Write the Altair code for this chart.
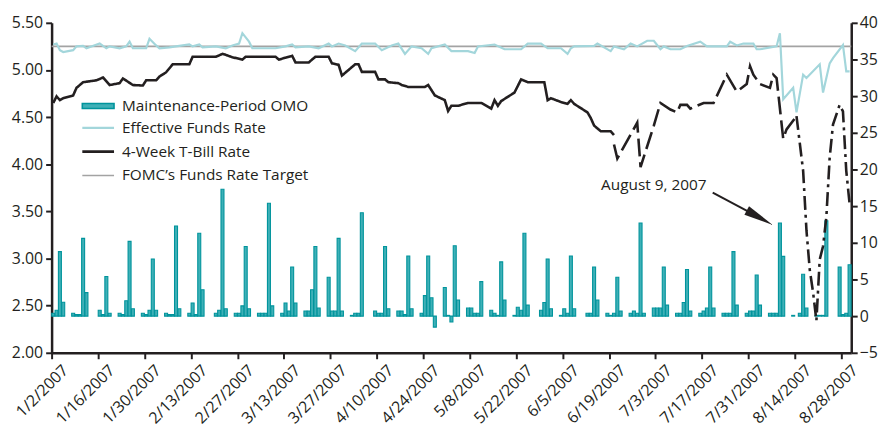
import altair as alt
import pandas as pd

# ---------------- data ----------------
omo_dates = [
    "2007-01-02", "2007-01-03", "2007-01-04", "2007-01-05",
    "2007-01-08", "2007-01-09", "2007-01-10", "2007-01-11", "2007-01-12",
    "2007-01-16", "2007-01-17", "2007-01-18", "2007-01-19",
    "2007-01-22", "2007-01-23", "2007-01-24", "2007-01-25", "2007-01-26",
    "2007-01-29", "2007-01-30", "2007-01-31", "2007-02-01", "2007-02-02",
    "2007-02-05", "2007-02-06", "2007-02-07", "2007-02-08", "2007-02-09",
    "2007-02-12", "2007-02-13", "2007-02-14", "2007-02-15", "2007-02-16",
    "2007-02-20", "2007-02-21", "2007-02-22", "2007-02-23",
    "2007-02-26", "2007-02-27", "2007-02-28", "2007-03-01", "2007-03-02",
    "2007-03-05", "2007-03-06", "2007-03-07", "2007-03-08", "2007-03-09",
    "2007-03-12", "2007-03-13", "2007-03-14", "2007-03-15", "2007-03-16",
    "2007-03-19", "2007-03-20", "2007-03-21", "2007-03-22", "2007-03-23",
    "2007-03-26", "2007-03-27", "2007-03-28", "2007-03-29", "2007-03-30",
    "2007-04-02", "2007-04-03", "2007-04-04", "2007-04-05",
    "2007-04-09", "2007-04-10", "2007-04-11", "2007-04-12", "2007-04-13",
    "2007-04-16", "2007-04-17", "2007-04-18", "2007-04-19", "2007-04-20",
    "2007-04-23", "2007-04-24", "2007-04-25", "2007-04-26", "2007-04-27",
    "2007-04-30", "2007-05-01", "2007-05-02", "2007-05-03", "2007-05-04",
    "2007-05-07", "2007-05-08", "2007-05-09", "2007-05-10", "2007-05-11",
    "2007-05-14", "2007-05-15", "2007-05-16", "2007-05-17", "2007-05-18",
    "2007-05-21", "2007-05-22", "2007-05-23", "2007-05-24", "2007-05-25",
    "2007-05-29", "2007-05-30", "2007-05-31", "2007-06-01",
    "2007-06-04", "2007-06-05", "2007-06-06", "2007-06-07", "2007-06-08",
    "2007-06-12", "2007-06-13", "2007-06-14", "2007-06-15",
    "2007-06-18", "2007-06-19", "2007-06-20", "2007-06-21", "2007-06-22",
    "2007-06-25", "2007-06-26", "2007-06-27", "2007-06-28", "2007-06-29",
    "2007-07-02", "2007-07-03", "2007-07-04", "2007-07-05", "2007-07-06",
    "2007-07-09", "2007-07-10", "2007-07-11", "2007-07-12", "2007-07-13",
    "2007-07-16", "2007-07-17", "2007-07-18", "2007-07-19", "2007-07-20",
    "2007-07-23", "2007-07-24", "2007-07-25", "2007-07-26", "2007-07-27",
    "2007-07-30", "2007-07-31", "2007-08-01", "2007-08-02", "2007-08-03",
    "2007-08-06", "2007-08-07", "2007-08-08", "2007-08-09", "2007-08-10",
    "2007-08-13", "2007-08-15", "2007-08-16", "2007-08-17",
    "2007-08-20", "2007-08-21", "2007-08-22", "2007-08-23",
    "2007-08-27", "2007-08-28", "2007-08-29", "2007-08-30",
]
omo_values = [
    0.4, 0.8, 8.8, 1.9,
    0.4, 0.2, 0.2, 10.6, 3.2,
    0.8, 0.2, 5.4, 0.4,
    0.4, 0.2, 2.1, 10.2, 1.0,
    0.4, 0.2, 0.8, 7.8, 0.8,
    0.4, 0.2, 0.2, 12.3, 1.0,
    0.4, 1.8, 0.2, 11.3, 3.6,
    0.4, 0.8, 17.3, 1.0,
    0.4, 0.4, 1.4, 9.5, 1.0,
    0.4, 0.4, 0.4, 15.4, 1.4,
    0.4, 1.8, 0.7, 6.7, 1.8,
    0.7, 0.7, 3.6, 9.5, 1.1,
    5.3, 0.7, 0.7, 10.6, 0.7,
    0.1, 0.4, 0.4, 14.1,
    0.7, 0.4, 0.4, 9.5, 1.0,
    0.7, 0.7, 0.2, 8.2, 1.0,
    0.4, 2.8, 8.2, 2.5, -1.5,
    3.9, 0.1, -0.8, 9.6, 2.2,
    1.1, 1.1, 0.4, 0.4, 4.7,
    0.8, 0.4, 0.1, 7.4, 2.2,
    0.1, 1.2, 0.8, 11.3, 1.5,
    0.8, 1.85, 7.8, 1.0,
    0.1, 1.0, 0.4, 8.2, 1.0,
    0.4, 0.4, 6.7, 2.2,
    0.4, 0.1, 0.4, 5.3, 0.7,
    0.4, 0.7, 0.4, 12.7, 0.4,
    1.1, 1.1, 1.1, 6.7, 1.5,
    0.4, 0.4, 1.85, 6.35, 0.7,
    0.4, 0.7, 1.1, 6.7, 1.1,
    0.4, 0.4, 0.4, 8.8, 1.5,
    0.4, 0.7, 0.7, 5.6, 1.5,
    0.4, 0.4, 0.4, 12.7, 8.15,
    0.1, 0.4, 5.7, 1.1,
    0.1, 0.1, 0.1, 13.0,
    6.7, 0.2, 0.4, 7.0,
]

effr_dates = [
    "2007-01-02", "2007-01-03", "2007-01-04", "2007-01-05", "2007-01-08", "2007-01-09",
    "2007-01-11", "2007-01-12", "2007-01-16", "2007-01-18", "2007-01-19", "2007-01-22",
    "2007-01-24", "2007-01-25", "2007-01-26", "2007-01-30", "2007-01-31", "2007-02-02",
    "2007-02-03", "2007-02-06", "2007-02-09", "2007-02-12", "2007-02-13", "2007-02-15",
    "2007-02-16", "2007-02-20", "2007-02-23", "2007-02-25", "2007-02-27", "2007-02-28",
    "2007-03-02", "2007-03-03", "2007-03-06", "2007-03-10", "2007-03-13", "2007-03-15",
    "2007-03-16", "2007-03-20", "2007-03-23", "2007-03-26", "2007-03-27", "2007-03-29",
    "2007-03-31", "2007-04-03", "2007-04-05", "2007-04-09", "2007-04-11", "2007-04-14",
    "2007-04-16", "2007-04-18", "2007-04-20", "2007-04-23", "2007-04-25", "2007-04-26",
    "2007-04-30", "2007-05-02", "2007-05-07", "2007-05-09", "2007-05-10", "2007-05-15",
    "2007-05-18", "2007-05-23", "2007-05-25", "2007-05-29", "2007-05-31", "2007-06-04",
    "2007-06-06", "2007-06-07", "2007-06-08", "2007-06-14", "2007-06-15", "2007-06-19",
    "2007-06-20", "2007-06-23", "2007-06-25", "2007-06-27", "2007-06-30", "2007-07-02",
    "2007-07-04", "2007-07-05", "2007-07-07", "2007-07-10", "2007-07-12", "2007-07-16",
    "2007-07-18", "2007-07-24", "2007-07-25", "2007-07-27", "2007-07-29", "2007-08-01",
    "2007-08-02", "2007-08-03", "2007-08-08", "2007-08-09", "2007-08-10", "2007-08-13",
    "2007-08-14", "2007-08-16", "2007-08-17", "2007-08-21", "2007-08-22", "2007-08-24",
    "2007-08-25", "2007-08-28", "2007-08-29", "2007-08-30",
]
effr_values = [
    5.27, 5.28, 5.21, 5.19, 5.21, 5.25,
    5.255, 5.23, 5.28, 5.23, 5.25, 5.23,
    5.25, 5.30, 5.23, 5.23, 5.33, 5.26,
    5.23, 5.24, 5.255, 5.27, 5.25, 5.27,
    5.24, 5.25, 5.23, 5.26, 5.28, 5.39,
    5.30, 5.23, 5.23, 5.23, 5.25, 5.27,
    5.24, 5.25, 5.23, 5.28, 5.25, 5.28,
    5.26, 5.20, 5.28, 5.28, 5.21, 5.26,
    5.28, 5.17, 5.25, 5.23, 5.17, 5.23,
    5.27, 5.20, 5.20, 5.18, 5.25, 5.27,
    5.22, 5.22, 5.28, 5.28, 5.23, 5.23,
    5.17, 5.23, 5.25, 5.255, 5.28, 5.20,
    5.25, 5.22, 5.28, 5.25, 5.31, 5.31,
    5.22, 5.25, 5.22, 5.22, 5.255, 5.30,
    5.25, 5.25, 5.30, 5.26, 5.28, 5.28,
    5.22, 5.22, 5.25, 5.39, 4.69, 4.81,
    4.55, 4.95, 4.915, 5.06, 4.76, 5.07,
    5.125, 5.265, 4.985, 4.985,
]

tbill_solid_dates = [
    "2007-01-02", "2007-01-03", "2007-01-04", "2007-01-05", "2007-01-08", "2007-01-09",
    "2007-01-11", "2007-01-15", "2007-01-17", "2007-01-19", "2007-01-22", "2007-01-23",
    "2007-01-26", "2007-01-29", "2007-01-30", "2007-02-02", "2007-02-03", "2007-02-05",
    "2007-02-07", "2007-02-12", "2007-02-13", "2007-02-20", "2007-02-22", "2007-02-23",
    "2007-02-25", "2007-02-28", "2007-03-01", "2007-03-10", "2007-03-11", "2007-03-13",
    "2007-03-15", "2007-03-16", "2007-03-20", "2007-03-22", "2007-03-26", "2007-03-27",
    "2007-03-29", "2007-03-30", "2007-04-03", "2007-04-04", "2007-04-05", "2007-04-09",
    "2007-04-10", "2007-04-12", "2007-04-13", "2007-04-16", "2007-04-17", "2007-04-19",
    "2007-04-24", "2007-04-25", "2007-04-27", "2007-04-30", "2007-05-01", "2007-05-02",
    "2007-05-04", "2007-05-07", "2007-05-11", "2007-05-14", "2007-05-15", "2007-05-16",
    "2007-05-17", "2007-05-21", "2007-05-23", "2007-05-25", "2007-05-30", "2007-05-31",
    "2007-06-01", "2007-06-04", "2007-06-06", "2007-06-07", "2007-06-08", "2007-06-12",
    "2007-06-13", "2007-06-14", "2007-06-16", "2007-06-19", "2007-06-20",
]
tbill_solid_values = [
    4.65, 4.72, 4.68, 4.70, 4.73, 4.81,
    4.87, 4.89, 4.92, 4.84, 4.86, 4.91,
    4.84, 4.835, 4.89, 4.89, 4.93, 4.975,
    5.06, 5.06, 5.14, 5.14, 5.17, 5.16,
    5.135, 5.11, 5.14, 5.14, 5.11, 5.13,
    5.15, 5.08, 5.08, 5.14, 5.14, 5.07,
    5.055, 4.94, 5.06, 5.06, 4.98, 4.98,
    4.90, 4.90, 4.87, 4.86, 4.84, 4.82,
    4.82, 4.84, 4.73, 4.68, 4.565, 4.62,
    4.62, 4.65, 4.65, 4.59, 4.68, 4.62,
    4.67, 4.76, 4.90, 4.87, 4.87, 4.68,
    4.70, 4.66, 4.64, 4.68, 4.64, 4.55,
    4.49, 4.41, 4.35, 4.35, 4.31,
]
tbill_dashed_dates = [
    "2007-06-20", "2007-06-21", "2007-06-27", "2007-06-28", "2007-07-02", "2007-07-04",
    "2007-07-07", "2007-07-09", "2007-07-10", "2007-07-12", "2007-07-13", "2007-07-17",
    "2007-07-20", "2007-07-24", "2007-07-27", "2007-07-30", "2007-07-31", "2007-08-01",
    "2007-08-03", "2007-08-06", "2007-08-07", "2007-08-08", "2007-08-10", "2007-08-11",
    "2007-08-14",
]
tbill_dashed_values = [
    4.21, 4.06, 4.44, 3.97, 4.41, 4.65,
    4.58, 4.55, 4.63, 4.63, 4.59, 4.65,
    4.65, 4.95, 4.77, 4.85, 5.04, 4.95,
    4.85, 4.81, 4.95, 4.915, 4.27, 4.37,
    4.51,
]
tbill_dashdot_dates = [
    "2007-08-14", "2007-08-16", "2007-08-17", "2007-08-18", "2007-08-19", "2007-08-20",
    "2007-08-21", "2007-08-22", "2007-08-23", "2007-08-24", "2007-08-25", "2007-08-27",
    "2007-08-28", "2007-08-29", "2007-08-30",
]
tbill_dashdot_values = [
    4.51, 3.93, 3.30, 2.88, 2.64, 2.34,
    2.99, 3.13, 3.44, 4.07, 4.42, 4.63,
    4.56, 3.93, 3.58,
]

fomc_dates = ["2007-01-02", "2007-08-31"]
fomc_values = [5.25, 5.25]

tick_dates = [
    (1, 2), (1, 16), (1, 30), (2, 13), (2, 27), (3, 13), (3, 27), (4, 10), (4, 24),
    (5, 8), (5, 22), (6, 5), (6, 19), (7, 3), (7, 17), (7, 31), (8, 14), (8, 28),
]
left_ticks = [2.0, 2.5, 3.0, 3.5, 4.0, 4.5, 5.0, 5.5]
right_ticks = [-5, 0, 5, 10, 15, 20, 25, 30, 35, 40]

legend_labels = [
    "Maintenance-Period OMO",
    "Effective Funds Rate",
    "4-Week T-Bill Rate",
    "FOMC\u2019s Funds Rate Target",
]
annotation_label = "August 9, 2007"
annotation_at = ("2007-07-02T12:00:00Z", 3.776)
arrow_from = ("2007-07-20T06:00:00Z", 3.70)
arrow_to = ("2007-08-03T10:00:00Z", 3.433)

# ---------------- styling ----------------
FONT = "Open Sans"
INK = "#231f20"
TEAL = "#00949c"
TEAL_FILL = "#3fb0b7"
LIGHT = "#a3d6db"
GRAY = "#a3a3a3"
ISO = "%Y-%m-%dT%H:%M:%SZ"

def iso(series, hours):
    return (pd.to_datetime(pd.Series(series)) + pd.Timedelta(hours=hours)).dt.strftime(ISO)

bars_df = pd.DataFrame({"v": omo_values})
bars_df["x0"] = iso(omo_dates, 1.2)
bars_df["x1"] = iso(omo_dates, 22.8)
bars_df["base"] = 0.0

effr_df = pd.DataFrame({"t": iso(effr_dates, 12), "v": effr_values})
tb_df = pd.concat([
    pd.DataFrame({"t": iso(tbill_solid_dates, 12), "v": tbill_solid_values, "seg": "solid"}),
    pd.DataFrame({"t": iso(tbill_dashed_dates, 12), "v": tbill_dashed_values, "seg": "dashed"}),
    pd.DataFrame({"t": iso(tbill_dashdot_dates, 12), "v": tbill_dashdot_values, "seg": "dashdot"}),
], ignore_index=True)
tb_df["order"] = range(len(tb_df))
fomc_df = pd.DataFrame({"t": iso(fomc_dates, 0), "v": fomc_values})

x_scale = alt.Scale(
    type="utc",
    domain=[alt.DateTime(year=2007, month=1, date=2, utc=True),
            alt.DateTime(year=2007, month=8, date=31, utc=True)],
    nice=False,
)
x_axis = alt.Axis(
    values=[alt.DateTime(year=2007, month=m, date=d, utc=True) for m, d in tick_dates],
    labelExpr="(utcmonth(datum.value) + 1) + '/' + utcdate(datum.value) + '/' + utcyear(datum.value)",
    title=None, grid=False,
    labelAngle=-45, labelAlign="right", labelBaseline="top",
    labelFont=FONT, labelFontSize=16, labelColor=INK, labelPadding=3, labelOffset=8,
    domainColor=INK, domainWidth=2.5, tickColor=INK, tickWidth=2, tickSize=6,
    labelOverlap=False,
)
yl_scale = alt.Scale(domain=[2.0, 5.5], nice=False, zero=False)
yl_axis = alt.Axis(
    orient="left", values=left_ticks, format=".2f", title=None, grid=False,
    labelFont=FONT, labelFontSize=16, labelColor=INK, labelPadding=3,
    domainColor=INK, domainWidth=2.5, tickColor=INK, tickWidth=2, tickSize=6,
)
yr_scale = alt.Scale(domain=[-5, 40], nice=False, zero=False)
yr_axis = alt.Axis(
    orient="right", values=right_ticks, format="d", title=None, grid=False,
    labelFont=FONT, labelFontSize=16, labelColor=INK, labelPadding=2,
    domainColor=INK, domainWidth=2.5, tickColor=INK, tickWidth=2, tickSize=6,
)

def X(field):
    return alt.X(f"{field}:T", scale=x_scale, axis=x_axis)

def YL(field):
    return alt.Y(f"{field}:Q", scale=yl_scale, axis=yl_axis)

bars = alt.Chart(bars_df).mark_rect(fill=TEAL_FILL, stroke=TEAL, strokeWidth=1.1).encode(
    x=X("x0"), x2="x1",
    y=alt.Y("v:Q", scale=yr_scale, axis=yr_axis), y2="base",
)

fomc = alt.Chart(fomc_df).mark_line(color=GRAY, strokeWidth=1.6).encode(x=X("t"), y=YL("v"))
effr = alt.Chart(effr_df).mark_line(color=LIGHT, strokeWidth=2.2).encode(x=X("t"), y=YL("v"))
tbill = alt.Chart(tb_df).mark_line(color=INK, strokeWidth=2.6).encode(
    x=X("t"), y=YL("v"), order="order:Q", detail="seg:N",
    strokeDash=alt.StrokeDash(
        "seg:N",
        scale=alt.Scale(domain=["solid", "dashed", "dashdot"],
                        range=[[1, 0], [18, 6], [14, 5, 3, 5]]),
        legend=None,
    ),
)

anno_df = pd.DataFrame({"t": [annotation_at[0]], "v": [annotation_at[1]], "label": [annotation_label]})
anno = alt.Chart(anno_df).mark_text(font=FONT, fontSize=15.5, color=INK, align="center",
                                    baseline="middle").encode(x=X("t"), y=YL("v"), text="label:N")
arrow_df = pd.DataFrame({"t": [arrow_from[0], arrow_to[0]], "v": [arrow_from[1], arrow_to[1]]})
arrow_line = alt.Chart(arrow_df).mark_line(color=INK, strokeWidth=2).encode(x=X("t"), y=YL("v"))
arrow_head = alt.Chart(arrow_df.iloc[[1]]).mark_point(
    shape="M1,0L-1,-0.32L-1,0.32Z", size=900, angle=29, filled=True,
    fill=INK, opacity=1, strokeWidth=0,
).encode(x=X("t"), y=YL("v"))

# legend (drawn inside the plot, upper left)
one = pd.DataFrame({"k": [0]})
LX0, LX1, TX = 31, 63, 71
ROWS = [84, 106, 130, 154]
leg = [
    alt.Chart(one).mark_rect(fill=TEAL_FILL, stroke=TEAL, strokeWidth=1.6).encode(
        x=alt.value(LX0), x2=alt.value(LX1), y=alt.value(ROWS[0] - 2.5), y2=alt.value(ROWS[0] + 2.5)),
    alt.Chart(one).mark_rule(color=LIGHT, strokeWidth=2.4).encode(
        x=alt.value(LX0), x2=alt.value(LX1), y=alt.value(ROWS[1])),
    alt.Chart(one).mark_rule(color=INK, strokeWidth=2.8).encode(
        x=alt.value(LX0), x2=alt.value(LX1), y=alt.value(ROWS[2])),
    alt.Chart(one).mark_rule(color=GRAY, strokeWidth=1.6).encode(
        x=alt.value(LX0), x2=alt.value(LX1), y=alt.value(ROWS[3])),
]
for label, ry in zip(legend_labels, ROWS):
    leg.append(
        alt.Chart(pd.DataFrame({"label": [label]})).mark_text(
            font=FONT, fontSize=15.5, color=INK, align="left", baseline="middle"
        ).encode(x=alt.value(TX), y=alt.value(ry), text="label:N")
    )

left_group = alt.layer(fomc, effr, tbill, arrow_line, arrow_head, anno, *leg)
right_group = alt.layer(bars)

chart = alt.layer(right_group, left_group).resolve_scale(y="independent").properties(
    width=807, height=333,
    autosize=alt.AutoSizeParams(type="none"),
    padding={"left": 44, "top": 13, "right": 27, "bottom": 80},
).configure_view(stroke=None)

chart.save("out.html", embed_options={"renderer": "svg", "actions": False})
